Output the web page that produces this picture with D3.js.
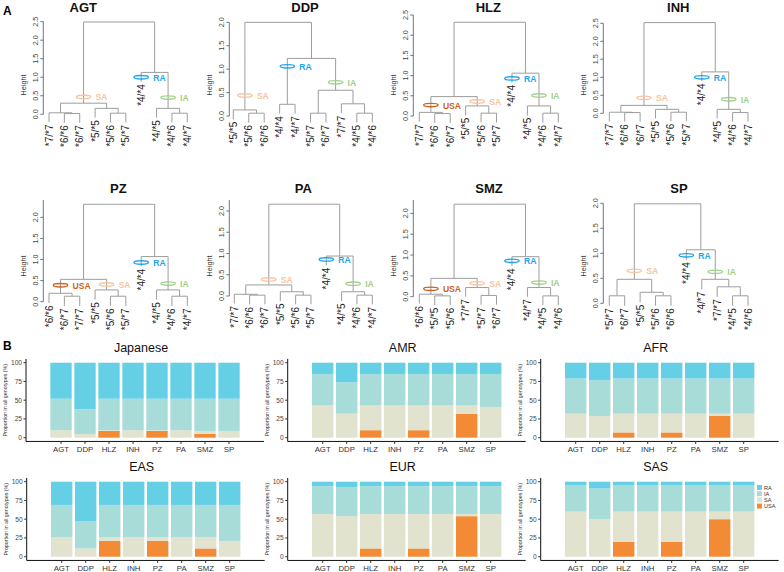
<!DOCTYPE html>
<html><head><meta charset="utf-8">
<script src="https://cdn.jsdelivr.net/npm/d3@7"></script>
<style>body{margin:0;background:#fff}svg{display:block;font-family:"Liberation Sans",Arial,Helvetica,sans-serif}</style>
</head><body>
<svg id="chart" width="784" height="572"></svg>
<script>
// ===== Panel A: hierarchical clustering, R hclust-style (merge rows, heights) =====
const agtLabels = ["*7/*7","*6/*6","*6/*7","*5/*5","*5/*6","*5/*7","*4/*4","*4/*5","*4/*6","*4/*7"];
const agtMerge  = [[-2,-3],[-1,1],[-5,-6],[-4,3],[2,4],[-9,-10],[-8,6],[-7,7],[5,8]];
const agtHeight = [0.02,0.04,0.03,0.16,0.30,0.03,0.16,1.13,2.49];
const agtGroups = [["SA",5,0.47],["RA",-7,1.00],["IA",7,0.45]];

const ddpLabels = ["*5/*5","*5/*6","*6/*6","*4/*4","*4/*7","*5/*7","*6/*7","*7/*7","*4/*5","*4/*6"];
const ddpMerge  = [[-2,-3],[-1,1],[-4,-5],[-6,-7],[-9,-10],[-8,5],[4,6],[3,7],[2,8]];
const ddpHeight = [0.06,0.13,0.25,0.06,0.06,0.26,0.55,1.23,2.00];
const ddpGroups = [["SA",2,0.44],["RA",3,1.06],["IA",7,0.72]];

const hlzLabels = ["*7/*7","*6/*6","*6/*7","*5/*5","*5/*6","*5/*7","*4/*4","*4/*5","*4/*6","*4/*7"];
const hlzMerge  = [[-2,-3],[-1,1],[-5,-6],[-4,3],[2,4],[-9,-10],[-8,6],[-7,7],[5,8]];
const hlzHeight = [0.06,0.09,0.07,0.25,0.48,0.07,0.25,1.06,2.32];
const hlzGroups = [["USA",2,0.27],["SA",4,0.36],["RA",-7,0.93],["IA",7,0.51]];

const inhLabels = ["*7/*7","*6/*6","*6/*7","*5/*5","*5/*6","*5/*7","*4/*4","*4/*5","*4/*6","*4/*7"];
const inhMerge  = [[-2,-3],[-1,1],[-5,-6],[-4,3],[2,4],[-9,-10],[-8,6],[-7,7],[5,8]];
const inhHeight = [0.02,0.03,0.03,0.11,0.22,0.02,0.11,1.15,2.52];
const inhGroups = [["SA",5,0.43],["RA",-7,1.00],["IA",7,0.39]];

const pzLabels = ["*6/*6","*6/*7","*7/*7","*5/*5","*5/*6","*5/*7","*4/*4","*4/*5","*4/*6","*4/*7"];
const pzMerge  = [[-2,-3],[-1,1],[-5,-6],[-4,3],[2,4],[-9,-10],[-8,6],[-7,7],[5,8]];
const pzHeight = [0.13,0.20,0.13,0.28,0.53,0.13,0.28,1.07,2.31];
const pzGroups = [["USA",2,0.39],["SA",4,0.41],["RA",-7,0.93],["IA",7,0.43]];

const paLabels = ["*7/*7","*6/*6","*6/*7","*5/*5","*5/*6","*5/*7","*4/*4","*4/*5","*4/*6","*4/*7"];
const paMerge  = [[-2,-3],[-1,1],[-5,-6],[-4,3],[2,4],[-9,-10],[-8,6],[-7,7],[5,8]];
const paHeight = [0.02,0.04,0.02,0.10,0.26,0.02,0.10,0.94,2.16];
const paGroups = [["SA",5,0.39],["RA",-7,0.86],["IA",7,0.29]];

const smzLabels = ["*6/*6","*5/*5","*5/*6","*7/*7","*5/*7","*6/*7","*4/*4","*4/*7","*4/*5","*4/*6"];
const smzMerge  = [[-2,-3],[-1,1],[-5,-6],[-4,3],[2,4],[-9,-10],[-8,6],[-7,7],[5,8]];
const smzHeight = [0.02,0.06,0.03,0.22,0.44,0.02,0.22,0.96,2.22];
const smzGroups = [["USA",2,0.19],["SA",4,0.32],["RA",-7,0.86],["IA",7,0.34]];

const spLabels = ["*5/*7","*6/*7","*5/*5","*5/*6","*6/*6","*4/*4","*4/*7","*7/*7","*4/*5","*4/*6"];
const spMerge  = [[-1,-2],[-4,-5],[-3,2],[1,3],[-9,-10],[-8,5],[-7,6],[-6,7],[4,8]];
const spHeight = [0.15,0.15,0.22,0.48,0.15,0.33,0.48,1.07,1.99];
const spGroups = [["SA",4,0.65],["RA",-6,0.96],["IA",7,0.63]];

// ===== Panel B: proportions (%) per drug, by population =====
const drugs = ["AGT","DDP","HLZ","INH","PZ","PA","SMZ","SP"];
const phenotypes = ["RA","IA","SA","USA"];

const japaneseUSA = [0,0,9,0,9,0,5,0];
const japaneseSA  = [10,5,1,10,1,10,4,9];
const japaneseIA  = [42,33,42,42,42,42,43,43];
const japaneseRA  = [48,62,48,48,48,48,48,48];

const amrUSA = [0,0,10,0,10,0,32,0];
const amrSA  = [43,32,33,43,33,43,11,41];
const amrIA  = [42,42,42,42,42,42,42,44];
const amrRA  = [15,26,15,15,15,15,15,15];

const afrUSA = [0,0,7,0,7,0,29,0];
const afrSA  = [32,29,25,32,25,32,3,32];
const afrIA  = [47,48,47,47,47,47,47,47];
const afrRA  = [21,23,21,21,21,21,21,21];

const easUSA = [0,0,21,0,21,0,11,0];
const easSA  = [26,11,5,26,5,26,15,21];
const easIA  = [43,36,43,43,43,43,43,48];
const easRA  = [31,53,31,31,31,31,31,31];

const eurUSA = [0,0,11,0,11,0,54,0];
const eurSA  = [57,54,46,57,46,57,3,57];
const eurIA  = [37,39,37,37,37,37,37,37];
const eurRA  = [6,7,6,6,6,6,6,6];

const sasUSA = [0,0,20,0,20,0,50,0];
const sasSA  = [60,50,40,60,40,60,10,60];
const sasIA  = [35,41,35,35,35,35,35,35];
const sasRA  = [5,9,5,5,5,5,5,5];

// ===== styles / layout =====
const groupColor = {RA:"#1ea4ec", IA:"#9fd08a", SA:"#f7c3a0", USA:"#cf5f1c"};
const barColor = {RA:"#65cfe6", IA:"#a8dcd8", SA:"#e1e3ce", USA:"#f38b36"};
const svg = d3.select("#chart");

const dendroLayout = [
  {title:"AGT", axisX:43.3, y0:114.3, unit:37.07, leaf0:49, leaf1:187.3, tickMax:2.5, axisTop:2.5, titleX:83.3, titleY:11.7, hY:85},
  {title:"DDP", axisX:229.3, y0:116, unit:46.83, leaf0:233.3, leaf1:372.3, tickMax:2.0, axisTop:2.0, titleX:305, titleY:11.7, hY:85},
  {title:"HLZ", axisX:413.3, y0:116, unit:40.4, leaf0:419.3, leaf1:558.3, tickMax:2.5, axisTop:2.5, titleX:488.3, titleY:11.7, hY:85},
  {title:"INH", axisX:603.3, y0:113.3, unit:36, leaf0:609.3, leaf1:748, tickMax:2.5, axisTop:2.5, titleX:678.3, titleY:11.7, hY:85},
  {title:"PZ", axisX:43.3, y0:301.7, unit:42.17, leaf0:49, leaf1:187.3, tickMax:2.0, axisTop:2.41, titleX:118.3, titleY:193, hY:266},
  {title:"PA", axisX:229.3, y0:296, unit:42.5, leaf0:234.3, leaf1:372.3, tickMax:2.0, axisTop:2.26, titleX:303.3, titleY:193, hY:266},
  {title:"SMZ", axisX:413.3, y0:296.7, unit:41.67, leaf0:419.3, leaf1:558.3, tickMax:2.0, axisTop:2.32, titleX:489, titleY:193, hY:266},
  {title:"SP", axisX:603.3, y0:303.3, unit:50, leaf0:609.3, leaf1:748, tickMax:2.0, axisTop:2.0, titleX:679, titleY:193, hY:266}
];
const dendroData = [
  [agtLabels, agtMerge, agtHeight, agtGroups],
  [ddpLabels, ddpMerge, ddpHeight, ddpGroups],
  [hlzLabels, hlzMerge, hlzHeight, hlzGroups],
  [inhLabels, inhMerge, inhHeight, inhGroups],
  [pzLabels, pzMerge, pzHeight, pzGroups],
  [paLabels, paMerge, paHeight, paGroups],
  [smzLabels, smzMerge, smzHeight, smzGroups],
  [spLabels, spMerge, spHeight, spGroups]
];

function drawDendro(cfg, labels, merge, height, groups) {
  const g = svg.append("g");
  const hang = 0.1 * d3.max(height);
  const y = d3.scaleLinear().domain([0, cfg.tickMax]).range([cfg.y0, cfg.y0 - cfg.tickMax * cfg.unit]);
  const order = [];
  (function visit(r){ if (r < 0) order.push(-r - 1); else { visit(merge[r-1][0]); visit(merge[r-1][1]); } })(merge.length);
  const x = d3.scalePoint().domain(order.map(i => labels[i])).range([cfg.leaf0, cfg.leaf1]);
  const nodeX = [], leafH = [];
  const px = r => r < 0 ? x(labels[-r-1]) : nodeX[r-1];
  merge.forEach((m, k) => {
    nodeX[k] = (px(m[0]) + px(m[1])) / 2;
    m.forEach(r => { if (r < 0) leafH[-r-1] = height[k] - hang; });
  });
  const ph = r => r < 0 ? leafH[-r-1] : height[r-1];
  merge.forEach((m, k) => {
    g.append("path")
      .attr("d", `M${px(m[0])},${y(ph(m[0]))}V${y(height[k])}H${px(m[1])}V${y(ph(m[1]))}`)
      .attr("fill","none").attr("stroke","#9d9d9d").attr("stroke-width",1);
  });
  labels.forEach((lab, i) => {
    g.append("text")
      .attr("transform", `translate(${x(lab) + 3.5},${y(leafH[i]) + 2.5}) rotate(-90)`)
      .attr("text-anchor","end").attr("font-size", 10).attr("fill","#222").text(lab);
  });
  const ax = g.append("g").attr("transform", `translate(${cfg.axisX},0)`);
  ax.append("line").attr("x1",0).attr("x2",0).attr("y1", y(0)).attr("y2", y(cfg.axisTop))
    .attr("stroke","#666").attr("stroke-width",0.9);
  const ticks = d3.range(0, cfg.tickMax + 0.001, 0.5);
  ticks.forEach(t => {
    ax.append("line").attr("x1",-3).attr("x2",0).attr("y1",y(t)).attr("y2",y(t)).attr("stroke","#666").attr("stroke-width",0.9);
    ax.append("text").attr("transform", `translate(-5.5,${y(t)}) rotate(-90)`)
      .attr("text-anchor","middle").attr("font-size",7.2).attr("fill","#444").text(d3.format(".1f")(t));
  });
  g.append("text").attr("transform", `translate(${cfg.axisX - 17.5},${cfg.hY}) rotate(-90)`)
    .attr("text-anchor","middle").attr("font-size",7.2).attr("fill","#333").text("Height");
  g.append("text").attr("x", cfg.titleX).attr("y", cfg.titleY).attr("text-anchor","middle")
    .attr("font-size",13).attr("font-weight","bold").attr("fill","#111").text(cfg.title);
  groups.forEach(([name, ref, h]) => {
    const cx = px(ref), cy = y(h);
    g.append("ellipse").attr("cx",cx).attr("cy",cy).attr("rx",7.2).attr("ry",1.7)
      .attr("fill","none").attr("stroke",groupColor[name]).attr("stroke-width",1.4);
    g.append("text").attr("x", cx + 12).attr("y", cy + 3.6).attr("font-size",8.6)
      .attr("font-weight","bold").attr("fill",groupColor[name]).text(name);
  });
}
dendroLayout.forEach((cfg, i) => drawDendro(cfg, ...dendroData[i]));

// ===== Panel B =====
const barLayout = [
  {title:"Japanese", axisX:26, y0:437.7, titleY:351.7},
  {title:"AMR", axisX:287.7, y0:437.7, titleY:351.7},
  {title:"AFR", axisX:540.7, y0:437.7, titleY:351.7},
  {title:"EAS", axisX:26.7, y0:556.7, titleY:470.7},
  {title:"EUR", axisX:287.7, y0:556.7, titleY:470.7},
  {title:"SAS", axisX:540.7, y0:556.7, titleY:470.7}
];
const barData = [
  [japaneseUSA, japaneseSA, japaneseIA, japaneseRA],
  [amrUSA, amrSA, amrIA, amrRA],
  [afrUSA, afrSA, afrIA, afrRA],
  [easUSA, easSA, easIA, easRA],
  [eurUSA, eurSA, eurIA, eurRA],
  [sasUSA, sasSA, sasIA, sasRA]
];

function drawBars(cfg, usa, sa, ia, ra) {
  const g = svg.append("g");
  const x = d3.scalePoint().domain(drugs).range([cfg.axisX + 35, cfg.axisX + 35 + 7 * 24]);
  const y = d3.scaleLinear().domain([0, 100]).range([cfg.y0, cfg.y0 - 75]);
  const rows = drugs.map((d, i) => ({drug:d, USA:usa[i], SA:sa[i], IA:ia[i], RA:ra[i]}));
  const series = d3.stack().keys(["USA","SA","IA","RA"])(rows);
  const bw = 21.4;
  series.forEach(s => {
    g.append("g").selectAll("rect").data(s).join("rect")
      .attr("x", d => x(d.data.drug) - bw/2).attr("width", bw)
      .attr("y", d => y(d[1])).attr("height", d => Math.max(0, y(d[0]) - y(d[1])))
      .attr("fill", barColor[s.key]);
  });
  const xEnd = cfg.axisX + 70 + 7 * 24;
  g.append("line").attr("x1", cfg.axisX).attr("x2", cfg.axisX).attr("y1", y(-5)).attr("y2", y(105))
    .attr("stroke","#111").attr("stroke-width",1);
  g.append("line").attr("x1", cfg.axisX).attr("x2", xEnd).attr("y1", y(-5)).attr("y2", y(-5))
    .attr("stroke","#111").attr("stroke-width",1);
  [0,25,50,75,100].forEach(t => {
    g.append("line").attr("x1", cfg.axisX - 2.5).attr("x2", cfg.axisX).attr("y1", y(t)).attr("y2", y(t)).attr("stroke","#333");
    g.append("text").attr("x", cfg.axisX - 4).attr("y", y(t) + 2.3).attr("text-anchor","end")
      .attr("font-size",6.6).attr("fill","#444").text(t);
  });
  drugs.forEach(d => {
    g.append("line").attr("x1", x(d)).attr("x2", x(d)).attr("y1", y(-5)).attr("y2", y(-5) + 2.5).attr("stroke","#333");
    g.append("text").attr("x", x(d)).attr("y", y(-5) + 10.5).attr("text-anchor","middle")
      .attr("font-size",7.8).attr("fill","#333").text(d);
  });
  g.append("text").attr("transform", `translate(${cfg.axisX - 19},${y(50)}) rotate(-90)`)
    .attr("text-anchor","middle").attr("font-size",5.3).attr("fill","#333").text("Proportion in all genotypes (%)");
  g.append("text").attr("x", (x("AGT") + x("SP")) / 2 - 4).attr("y", cfg.titleY).attr("text-anchor","middle")
    .attr("font-size",12.5).attr("fill","#111").text(cfg.title);
}
barLayout.forEach((cfg, i) => drawBars(cfg, ...barData[i]));

const lg = svg.append("g").attr("transform","translate(757,485)");
phenotypes.forEach((p, i) => {
  lg.append("rect").attr("x",0).attr("y", i * 6.2).attr("width",5).attr("height",5).attr("fill", barColor[p]);
  lg.append("text").attr("x",7).attr("y", i * 6.2 + 4.6).attr("font-size",5.6).attr("fill","#333").text(p);
});

svg.append("text").attr("x",3).attr("y",15).attr("font-size",12).attr("font-weight","bold").text("A");
svg.append("text").attr("x",3).attr("y",350).attr("font-size",12).attr("font-weight","bold").text("B");
</script>
</body></html>
